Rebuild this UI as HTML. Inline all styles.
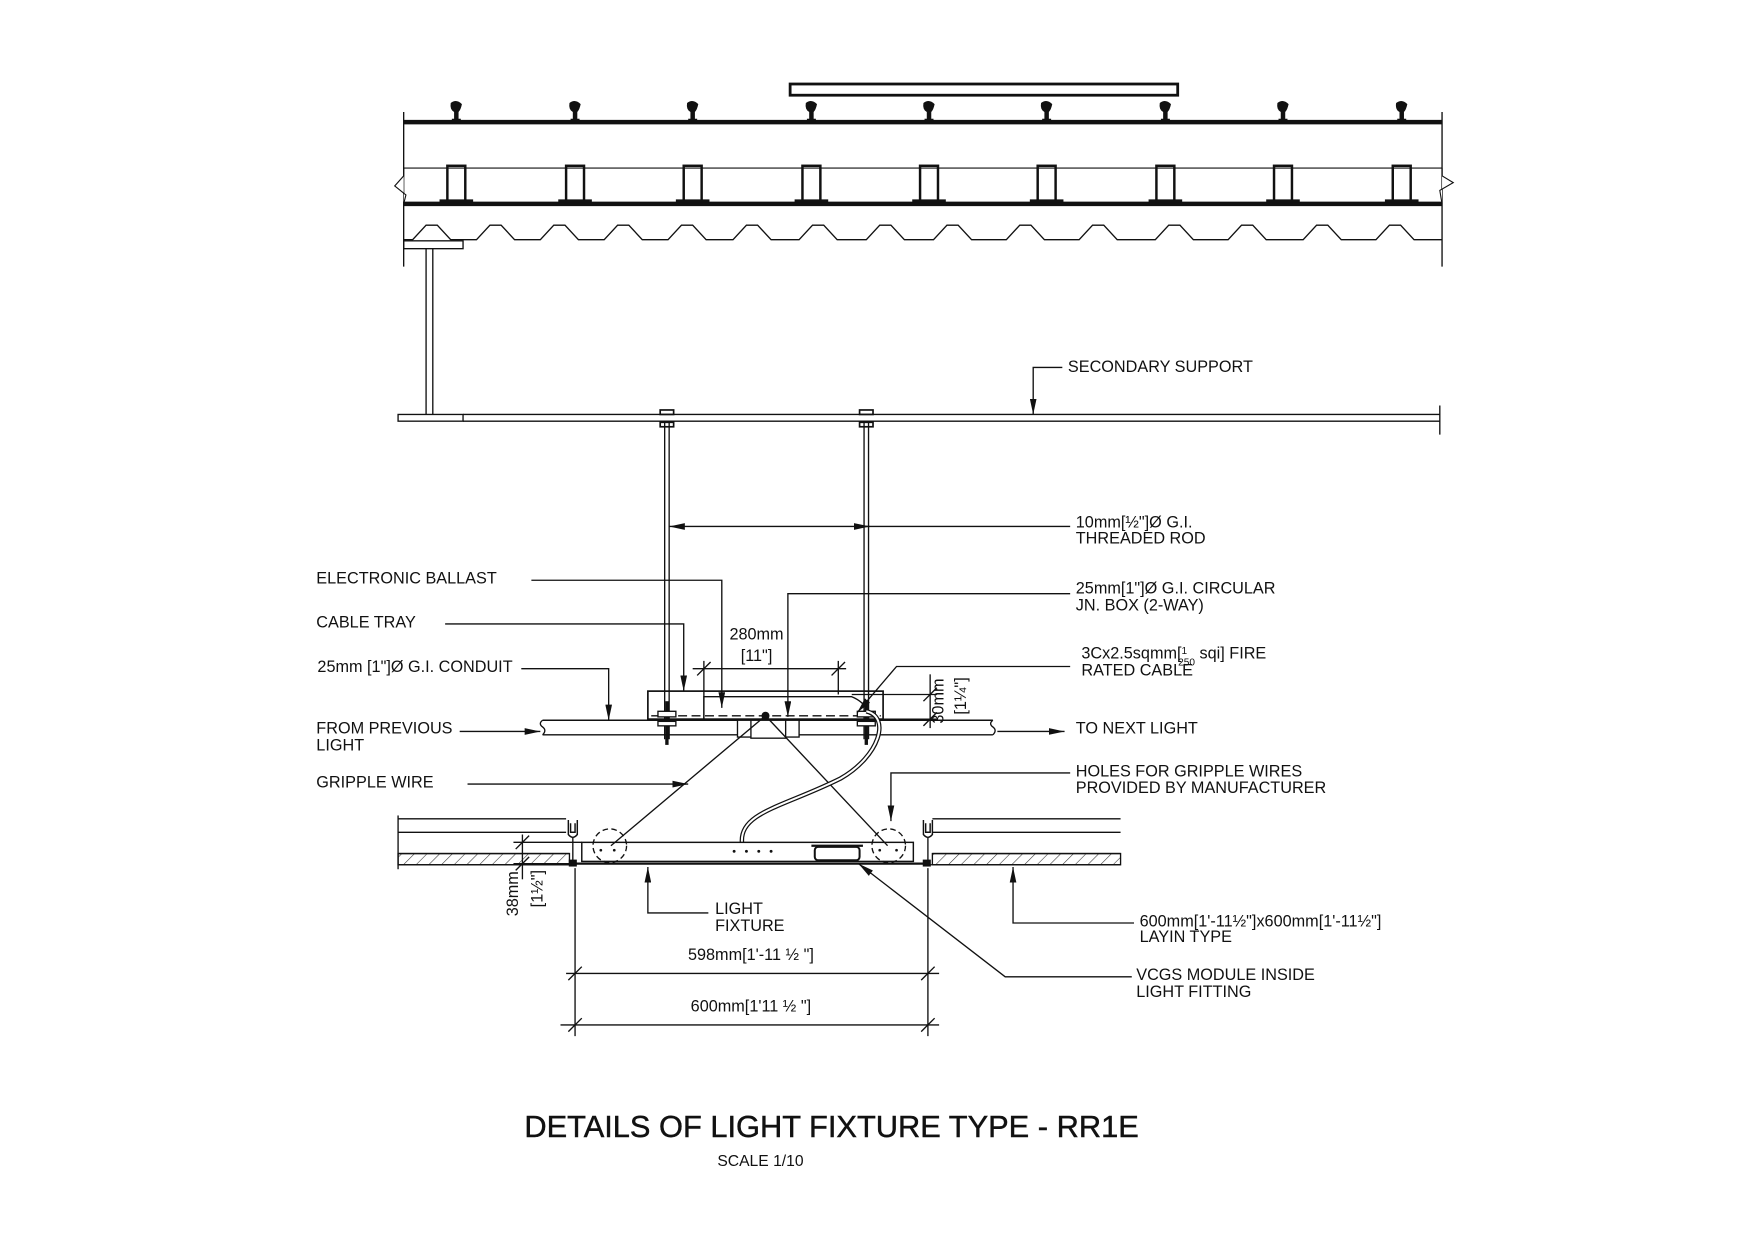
<!DOCTYPE html>
<html><head><meta charset="utf-8"><style>
html,body{margin:0;padding:0;background:#fff;}
svg{display:block;}
text{font-family:"Liberation Sans",Arial,sans-serif;fill:#111;}
</style></head><body>
<svg width="1755" height="1240" viewBox="0 0 1566 1107" xmlns="http://www.w3.org/2000/svg">
<defs>
<marker id="ar" viewBox="0 0 14 6" refX="14" refY="3" markerWidth="14" markerHeight="6" orient="auto-start-reverse" markerUnits="userSpaceOnUse"><path d="M0,0 L14,3 L0,6 z" fill="#111"/></marker>
<pattern id="hatch" width="8" height="8" patternUnits="userSpaceOnUse" patternTransform="rotate(45)"><line x1="0" y1="0" x2="0" y2="8" stroke="#333" stroke-width="1"/></pattern>
<g id="clip"><path d="M-2,0 L-2,-8 Q-6,-10 -5,-16 Q0,-20 5,-15 Q4,-10 2,-8 L2,0 z" fill="#111"/><rect x="-4" y="-2" width="8" height="3" fill="#111"/></g>
<g id="purlin"><rect x="-8" y="-33" width="16" height="33" fill="none" stroke="#111" stroke-width="2.2"/><rect x="-15" y="-3" width="30" height="3" fill="#111"/></g>
</defs>
<g stroke="#111" fill="none">
<line x1="360" y1="100" x2="360" y2="238" stroke-width="1.2"/>
<line x1="1287" y1="100" x2="1287" y2="238" stroke-width="1.2"/>
<line x1="360" y1="109" x2="1287" y2="109" stroke-width="4"/>
<line x1="360" y1="150" x2="1287" y2="150" stroke-width="1"/>
<line x1="360" y1="182" x2="1287" y2="182" stroke-width="4"/>
<path d="M360,150 L360,157 L352,166 L362,174 L360,182" stroke-width="1" fill="#fff"/>
<path d="M1287,150 L1287,157 L1297,163 L1285,170 L1287,182" stroke-width="1" fill="#fff"/>
<rect x="705" y="75" width="346" height="10" stroke-width="2.5"/>
</g>
<g>
<use href="#clip" x="407" y="108"/><use href="#clip" x="513" y="108"/><use href="#clip" x="618" y="108"/><use href="#clip" x="724" y="108"/><use href="#clip" x="829" y="108"/><use href="#clip" x="934" y="108"/><use href="#clip" x="1040" y="108"/><use href="#clip" x="1145" y="108"/><use href="#clip" x="1251" y="108"/>
<use href="#purlin" x="407" y="181"/><use href="#purlin" x="513" y="181"/><use href="#purlin" x="618" y="181"/><use href="#purlin" x="724" y="181"/><use href="#purlin" x="829" y="181"/><use href="#purlin" x="934" y="181"/><use href="#purlin" x="1040" y="181"/><use href="#purlin" x="1145" y="181"/><use href="#purlin" x="1251" y="181"/>
</g>
<g stroke="#111" fill="none" stroke-width="1.2">
<polyline points="360,214 368,214 380,201 390,201 402,214 425,214 437,201 447,201 459,214 482,214 494,201 504,201 516,214 539,214 551,201 561,201 573,214 596,214 608,201 618,201 630,214 654,214 666,201 676,201 688,214 713,214 725,201 735,201 747,214 773,214 785,201 795,201 807,214 833,214 845,201 855,201 867,214 898,214 910,201 920,201 932,214 963,214 975,201 985,201 997,214 1031,214 1043,201 1053,201 1065,214 1096,214 1108,201 1118,201 1130,214 1163,214 1175,201 1185,201 1197,214 1228,214 1240,201 1250,201 1262,214 1287,214"/>
<rect x="360" y="215" width="53" height="7"/>
<line x1="380" y1="222" x2="380" y2="370"/><line x1="386" y1="222" x2="386" y2="370"/>
<rect x="355" y="370" width="58" height="6"/>
<line x1="413" y1="370" x2="1285" y2="370"/><line x1="413" y1="376" x2="1285" y2="376"/>
<line x1="1285" y1="362" x2="1285" y2="388"/>
<polyline points="948,328 922,328 922,370" marker-end="url(#ar)"/>
<line x1="593" y1="376" x2="593" y2="660"/><line x1="597" y1="376" x2="597" y2="660"/>
<line x1="771" y1="376" x2="771" y2="660"/><line x1="775" y1="376" x2="775" y2="660"/>
<rect x="589" y="366" width="12" height="4" stroke-width="1.5"/><rect x="589" y="377" width="12" height="4" stroke-width="1.5"/>
<rect x="767" y="366" width="12" height="4" stroke-width="1.5"/><rect x="767" y="377" width="12" height="4" stroke-width="1.5"/>
<line x1="955" y1="470" x2="597" y2="470" marker-end="url(#ar)"/>
<line x1="765" y1="470" x2="776" y2="470" marker-end="url(#ar)"/>
<rect x="578" y="617" width="210" height="25" stroke-width="1.5"/>
<line x1="581" y1="639" x2="786" y2="639" stroke-dasharray="8,4"/>
<path d="M484,643 L886,643 M484,656 L886,656" stroke-width="1.3"/>
<path d="M484,643 q-4,3 0,6 q4,3 0,7 M886,643 q-4,3 0,6 q4,3 0,7"/>
<path d="M628,642 L628,622 L760,622 Q770,626 775,635 L775,642"/>
<rect x="658" y="643" width="55" height="15" fill="#fff"/>
<rect x="670" y="643" width="31" height="16" fill="#fff"/>
<circle cx="683" cy="639" r="3" fill="#111"/>
<g stroke-width="3"><line x1="595" y1="626" x2="595" y2="665"/><line x1="773" y1="626" x2="773" y2="665"/></g>
<rect x="587" y="635" width="16" height="5" fill="#fff"/><rect x="587" y="644" width="16" height="4" fill="#fff"/>
<rect x="765" y="635" width="16" height="5" fill="#fff"/><rect x="765" y="644" width="16" height="4" fill="#fff"/>
<line x1="618" y1="597" x2="755" y2="597"/><line x1="628" y1="590" x2="628" y2="642"/><line x1="748" y1="590" x2="748" y2="620"/>
<line x1="622" y1="603" x2="634" y2="591"/><line x1="742" y1="603" x2="754" y2="591"/>
<line x1="830" y1="602" x2="830" y2="650"/><line x1="760" y1="620" x2="836" y2="620"/><line x1="788" y1="642" x2="836" y2="642"/>
<line x1="824" y1="626" x2="836" y2="614"/><line x1="824" y1="648" x2="836" y2="636"/>
<polyline points="474,518 644,518 644,632" marker-end="url(#ar)"/>
<polyline points="397,557 610,557 610,617" marker-end="url(#ar)"/>
<polyline points="465,597 543,597 543,643" marker-end="url(#ar)"/>
<line x1="410" y1="653" x2="482" y2="653" marker-end="url(#ar)"/>
<line x1="890" y1="653" x2="950" y2="653" marker-end="url(#ar)"/>
<line x1="417" y1="700" x2="614" y2="700" marker-end="url(#ar)"/>
<polyline points="955,530 703,530 703,640" marker-end="url(#ar)"/>
<polyline points="955,595 800,595 765,636" marker-end="url(#ar)"/>
<polyline points="955,690 795,690 795,733" marker-end="url(#ar)"/>
<line x1="683" y1="639" x2="545" y2="755"/><line x1="683" y1="639" x2="792" y2="755"/>
<path d="M773,635 C795,640 785,675 750,695 C700,720 660,725 662,752" stroke-width="4"/>
<path d="M773,635 C795,640 785,675 750,695 C700,720 660,725 662,752" stroke="#fff" stroke-width="1.8"/>
<line x1="355" y1="728" x2="355" y2="776"/>
<line x1="355" y1="731" x2="505" y2="731"/><line x1="355" y1="743" x2="505" y2="743"/>
<line x1="832" y1="731" x2="1000" y2="731"/><line x1="832" y1="743" x2="1000" y2="743"/>
<rect x="355" y="762" width="153" height="10" fill="url(#hatch)"/>
<rect x="832" y="762" width="168" height="10" fill="url(#hatch)"/>
<line x1="355" y1="762" x2="508" y2="762"/><line x1="355" y1="772" x2="512" y2="772"/>
<line x1="832" y1="762" x2="1000" y2="762"/><line x1="828" y1="772" x2="1000" y2="772"/>
<path d="M507,732 L507,745 Q511,750 515,745 L515,732 M509,735 L509,743 L513,743 L513,735" stroke-width="1.3"/>
<path d="M824,732 L824,745 Q828,750 832,745 L832,732 M826,735 L826,743 L830,743 L830,735" stroke-width="1.3"/>
<line x1="511" y1="748" x2="511" y2="770"/><line x1="828" y1="748" x2="828" y2="770"/>
<rect x="508" y="768" width="6" height="5" fill="#111"/><rect x="824" y="768" width="6" height="5" fill="#111"/>
<rect x="519" y="752" width="296" height="17" stroke-width="1.3"/>
<line x1="514" y1="771" x2="828" y2="771" stroke-width="2"/>
<circle cx="544" cy="755" r="15" stroke-dasharray="5,3"/>
<circle cx="793" cy="755" r="15" stroke-dasharray="5,3"/>
<g fill="#111" stroke="none"><circle cx="536" cy="759" r="1.2"/><circle cx="548" cy="759" r="1.2"/><circle cx="785" cy="759" r="1.2"/><circle cx="800" cy="759" r="1.2"/><circle cx="655" cy="760" r="1.3"/><circle cx="666" cy="760" r="1.3"/><circle cx="677" cy="760" r="1.3"/><circle cx="688" cy="760" r="1.3"/></g>
<rect x="727" y="756" width="40" height="12" rx="3" stroke-width="1.8"/>
<line x1="724" y1="755" x2="770" y2="755" stroke-width="2"/>
<line x1="513" y1="775" x2="513" y2="925"/><line x1="828" y1="775" x2="828" y2="925"/>
<line x1="505" y1="869" x2="838" y2="869"/><line x1="507" y1="875" x2="519" y2="863"/><line x1="822" y1="875" x2="834" y2="863"/>
<line x1="500" y1="915" x2="838" y2="915"/><line x1="507" y1="921" x2="519" y2="909"/><line x1="822" y1="921" x2="834" y2="909"/>
<line x1="466" y1="745" x2="466" y2="785"/><line x1="458" y1="752" x2="519" y2="752"/><line x1="458" y1="771" x2="510" y2="771"/>
<line x1="460" y1="758" x2="472" y2="746"/><line x1="460" y1="777" x2="472" y2="765"/>
<polyline points="632,815 578,815 578,774" marker-end="url(#ar)"/>
<polyline points="1012,824 904,824 904,774" marker-end="url(#ar)"/>
<polyline points="1010,872 897,872 766,771" marker-end="url(#ar)"/>
</g>
<g font-size="14.5">
<text x="953" y="332">SECONDARY SUPPORT</text>
<text x="960" y="471">10mm[½"]Ø G.I.</text>
<text x="960" y="485">THREADED ROD</text>
<text x="282" y="521">ELECTRONIC BALLAST</text>
<text x="960" y="530">25mm[1"]Ø G.I. CIRCULAR</text>
<text x="960" y="545">JN. BOX (2-WAY)</text>
<text x="282" y="560">CABLE TRAY</text>
<text x="675" y="571" text-anchor="middle">280mm</text>
<text x="675" y="590" text-anchor="middle">[11"]</text>
<text x="965" y="588">3Cx2.5sqmm[<tspan font-size="9" dy="-4">1</tspan><tspan font-size="9" dx="-8" dy="10">250</tspan><tspan dy="-6"> sqi] FIRE</tspan></text>
<text x="965" y="603">RATED CABLE</text>
<text x="283" y="600">25mm [1"]Ø G.I. CONDUIT</text>
<text x="282" y="655">FROM PREVIOUS</text>
<text x="282" y="670">LIGHT</text>
<text x="960" y="655">TO NEXT LIGHT</text>
<text x="282" y="703">GRIPPLE WIRE</text>
<text x="960" y="693">HOLES FOR GRIPPLE WIRES</text>
<text x="960" y="708">PROVIDED BY MANUFACTURER</text>
<text x="638" y="816">LIGHT</text>
<text x="638" y="831">FIXTURE</text>
<text x="1017" y="827">600mm[1'-11½"]x600mm[1'-11½"]</text>
<text x="1017" y="841">LAYIN TYPE</text>
<text x="670" y="857" text-anchor="middle">598mm[1'-11 ½ "]</text>
<text x="670" y="903" text-anchor="middle">600mm[1'11 ½ "]</text>
<text x="1014" y="875">VCGS MODULE INSIDE</text>
<text x="1014" y="890">LIGHT FITTING</text>
<text transform="translate(842,646) rotate(-90)">30mm</text>
<text transform="translate(862,638) rotate(-90)">[1¼"]</text>
<text transform="translate(462,818) rotate(-90)">38mm</text>
<text transform="translate(484,810) rotate(-90)">[1½"]</text>
<text x="742" y="1015" text-anchor="middle" font-size="27.5" stroke="#111" stroke-width="0.4">DETAILS OF LIGHT FIXTURE TYPE - RR1E</text>
<text x="640" y="1041" font-size="14">SCALE 1/10</text>
</g>
</svg>
</body></html>
